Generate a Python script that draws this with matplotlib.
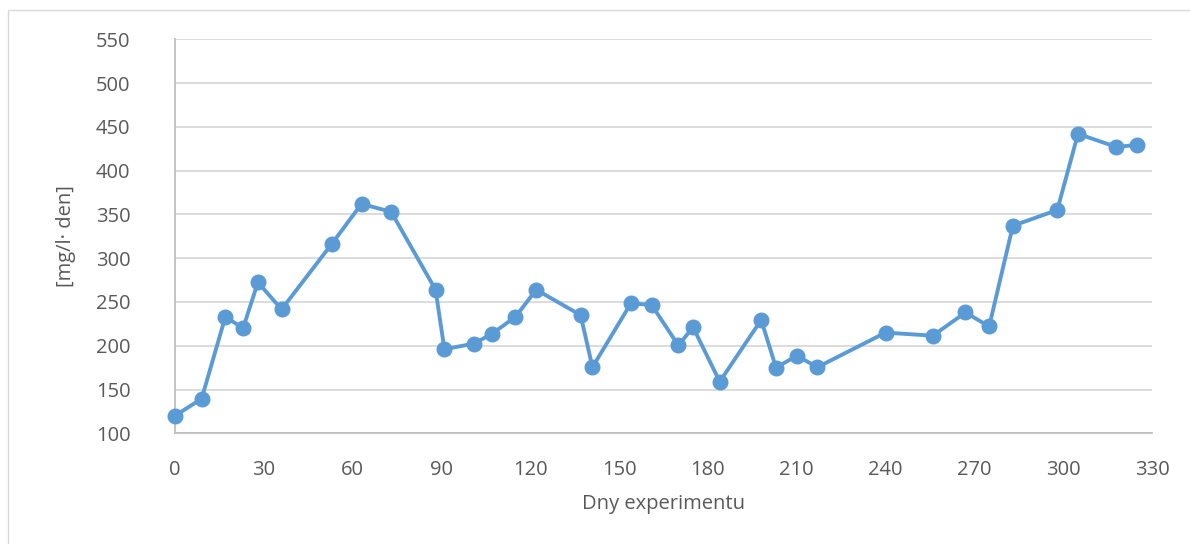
import matplotlib.pyplot as plt
from matplotlib.patches import Rectangle

# day of experiment and measured value [mg/l· den]
days = [0, 9, 17, 23, 28, 36, 53, 63, 73, 88, 91, 101, 107, 115, 122,
        137, 141, 154, 161, 170, 175, 184, 198, 203, 210, 217,
        240, 256, 267, 275, 283, 298, 305, 318, 325]
values = [120, 139.5, 233, 220, 272.5, 241.5, 316.5, 362, 353, 264, 196, 202.5, 213.5, 233, 264,
          235, 175.5, 248.5, 246.5, 200.5, 221, 159, 229.5, 175, 188.5, 175.5,
          215, 211.5, 238, 222, 337, 355, 442, 427, 429.5]

x_ticks = list(range(0, 331, 30))
y_ticks = list(range(100, 551, 50))

W, H = 1190, 544
text_color = '#595959'
plt.rcParams['font.family'] = ['Open Sans', 'DejaVu Sans']

fig = plt.figure(figsize=(W / 100, H / 100), dpi=100)
ax = fig.add_axes([175 / W, 1 - 433.3 / H, (1152 - 175) / W, (433.3 - 39.3) / H])

# outer chart frame (cropped on the right and bottom)
fig.patches.append(Rectangle((8 / W, -0.1), 1.2, 1 - 10 / H + 0.1, transform=fig.transFigure,
                             fill=False, edgecolor='#d9d9d9', linewidth=1.0))

ax.plot(days, values, color='#5B9BD5', linewidth=2.8, marker='o', markersize=10.5,
        clip_on=False, zorder=3)

ax.set_xlim(0, 330)
ax.set_ylim(100, 550)
ax.set_xticks(x_ticks)
ax.set_yticks(y_ticks)
ax.grid(axis='y', color='#d9d9d9', linewidth=1.3)
ax.set_axisbelow(True)

for side in ['top', 'right']:
    ax.spines[side].set_visible(False)
for side in ['left', 'bottom']:
    ax.spines[side].set_color('#bfbfbf')
    ax.spines[side].set_linewidth(1.3)

ax.tick_params(length=0, labelsize=14.5, colors=text_color)
ax.tick_params(axis='y', pad=32)
ax.tick_params(axis='x', pad=19)

ax.set_xlabel('Dny experimentu', fontsize=14.5, color=text_color, labelpad=10)
ax.set_ylabel('[mg/l· den]', fontsize=14.5, color=text_color, labelpad=14)

fig.savefig('out.png', dpi=100)
